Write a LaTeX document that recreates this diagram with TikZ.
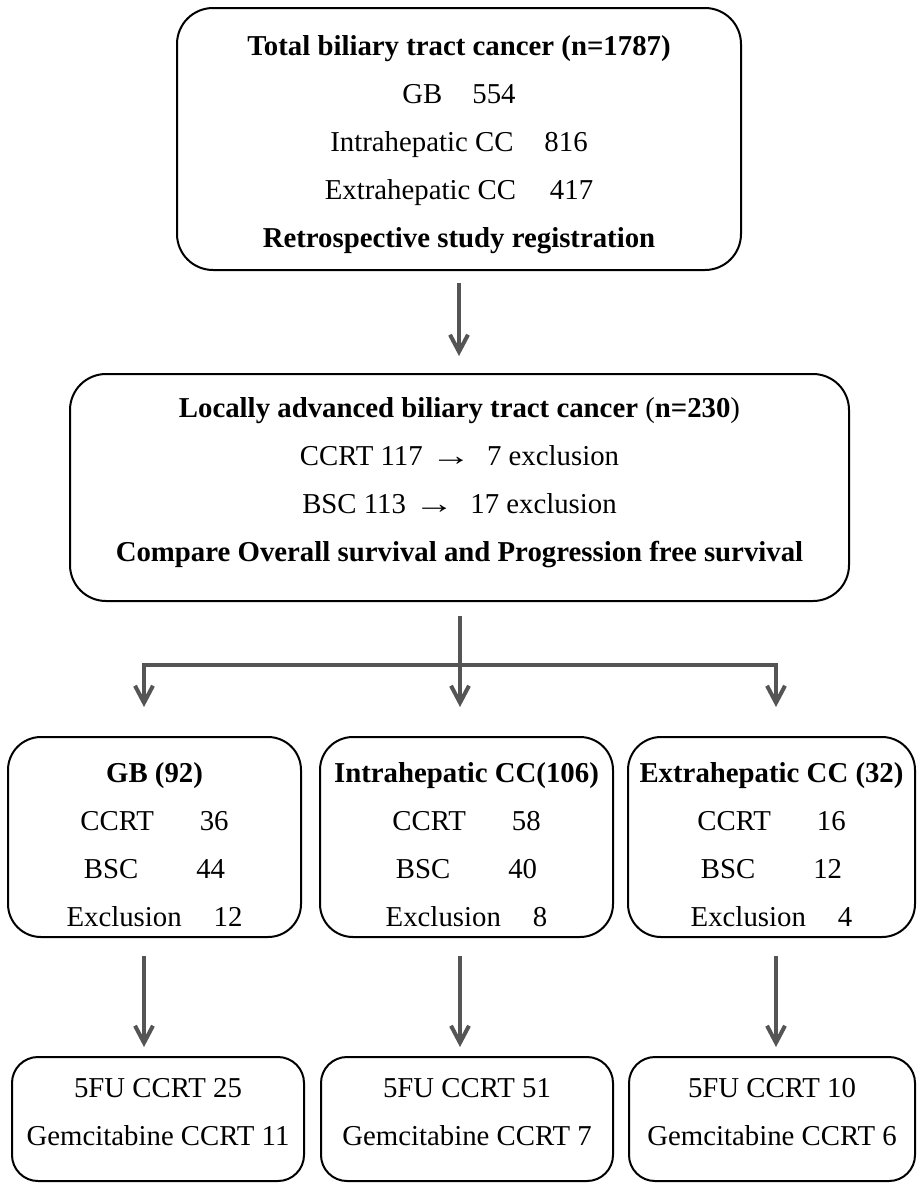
\documentclass[tikz,border=0pt]{standalone}
\usepackage{fontspec}
\setmainfont{Liberation Serif}
\usetikzlibrary{arrows.meta}
\usepackage{xcolor}
\definecolor{arrowgray}{RGB}{85,85,85}

\newcommand{\topstrut}[1]{\rule{0pt}{#1}}
\newcommand{\botstrut}[1]{\rule[-#1]{0pt}{#1}}
\newcommand{\toarrow}{\hspace{4pt}\scalebox{1.4}[1]{→}\hspace{8pt}}

\begin{document}
\begin{tikzpicture}[x=0.5pt,y=-0.5pt,
	box/.style={draw=black,line width=1pt,align=center,inner sep=0pt,font=\fontsize{14.4}{24}\selectfont},
	arr/.style={draw=arrowgray,line width=2pt,-{Straight Barb[length=8.5pt,width=9pt]}}]
	\useasboundingbox (0,0) rectangle (916,1183);

	\node(total) at (459,139)[box,rounded corners=18pt,minimum width=282pt,minimum height=131pt]
		{\topstrut{17.5pt}\textbf{Total biliary tract cancer (n=1787)}\\
		GB\hspace{15pt}554\\
		Intrahepatic CC\hspace{15.5pt}816\\
		Extrahepatic CC\hspace{17pt}417\\
		\textbf{Retrospective study registration}\botstrut{5pt}};

	\node(locally) at (459.5,487.5)[box,rounded corners=18pt,minimum width=389.5pt,minimum height=113.5pt]
		{\topstrut{11pt}\textbf{Locally advanced biliary tract cancer }(\textbf{n=230})\\
		CCRT 117\toarrow 7 exclusion\\
		BSC 113\toarrow 17 exclusion\\
		\textbf{Compare Overall survival and Progression free survival}\botstrut{9pt}};

	% subgroups
	\node(gbbox) at (154.5,837)[box,rounded corners=16.5pt,minimum width=146.5pt,minimum height=100pt]
		{\topstrut{21.5pt}\textbf{GB (92)}\\ CCRT\hspace{23pt}36\\ BSC\hspace{29pt}44\\ Exclusion\hspace{16pt}12\botstrut{4pt}};
	\node(ihbox) at (466.5,837)[box,rounded corners=16.5pt,minimum width=146.5pt,minimum height=100pt]
		{\topstrut{21.5pt}\textbf{Intrahepatic CC(106)}\\ CCRT\hspace{23pt}58\\ BSC\hspace{29pt}40\\ Exclusion\hspace{16pt}8\botstrut{4pt}};
	\node(ehbox) at (771.5,837)[box,rounded corners=16.5pt,minimum width=143.5pt,minimum height=100pt]
		{\topstrut{21.5pt}\textbf{Extrahepatic CC (32)}\\ CCRT\hspace{23pt}16\\ BSC\hspace{29pt}12\\ Exclusion\hspace{16pt}4\botstrut{4pt}};

	% chemotherapy
	\node(gbchemo) at (158,1119)[box,rounded corners=13pt,minimum width=146pt,minimum height=62pt]
		{\topstrut{12.5pt}5FU CCRT 25\\ Gemcitabine CCRT 11\botstrut{10pt}};
	\node(ihchemo) at (467,1119)[box,rounded corners=13pt,minimum width=146pt,minimum height=62pt]
		{\topstrut{12.5pt}5FU CCRT 51\\ Gemcitabine CCRT 7\botstrut{10pt}};
	\node(ehchemo) at (772,1119)[box,rounded corners=13pt,minimum width=143pt,minimum height=62pt]
		{\topstrut{12.5pt}5FU CCRT 10\\ Gemcitabine CCRT 6\botstrut{10pt}};

	\coordinate(left) at (144,665);
	\coordinate(mid) at (460,665);
	\coordinate(right) at (776,665);

	\draw[arr,shorten <=6pt,shorten >=8.5pt](total.south) to (total.south |- locally.north);
	\draw[arr,shorten <=7pt,shorten >=14.5pt](locally.south -| mid) to (mid |- ihbox.north);
	\draw[arr,shorten >=14.5pt](mid) -| (left |- gbbox.north);
	\draw[arr,shorten >=14.5pt](mid) -| (right |- ehbox.north);

	\draw[arr,shorten <=9pt,shorten >=4.5pt](left |- gbbox.south) to (left |- gbchemo.north);
	\draw[arr,shorten <=9pt,shorten >=4.5pt](mid |- ihbox.south) to (mid |- ihchemo.north);
	\draw[arr,shorten <=9pt,shorten >=4.5pt](right |- ehbox.south) to (right |- ehchemo.north);
\end{tikzpicture}
\end{document}
